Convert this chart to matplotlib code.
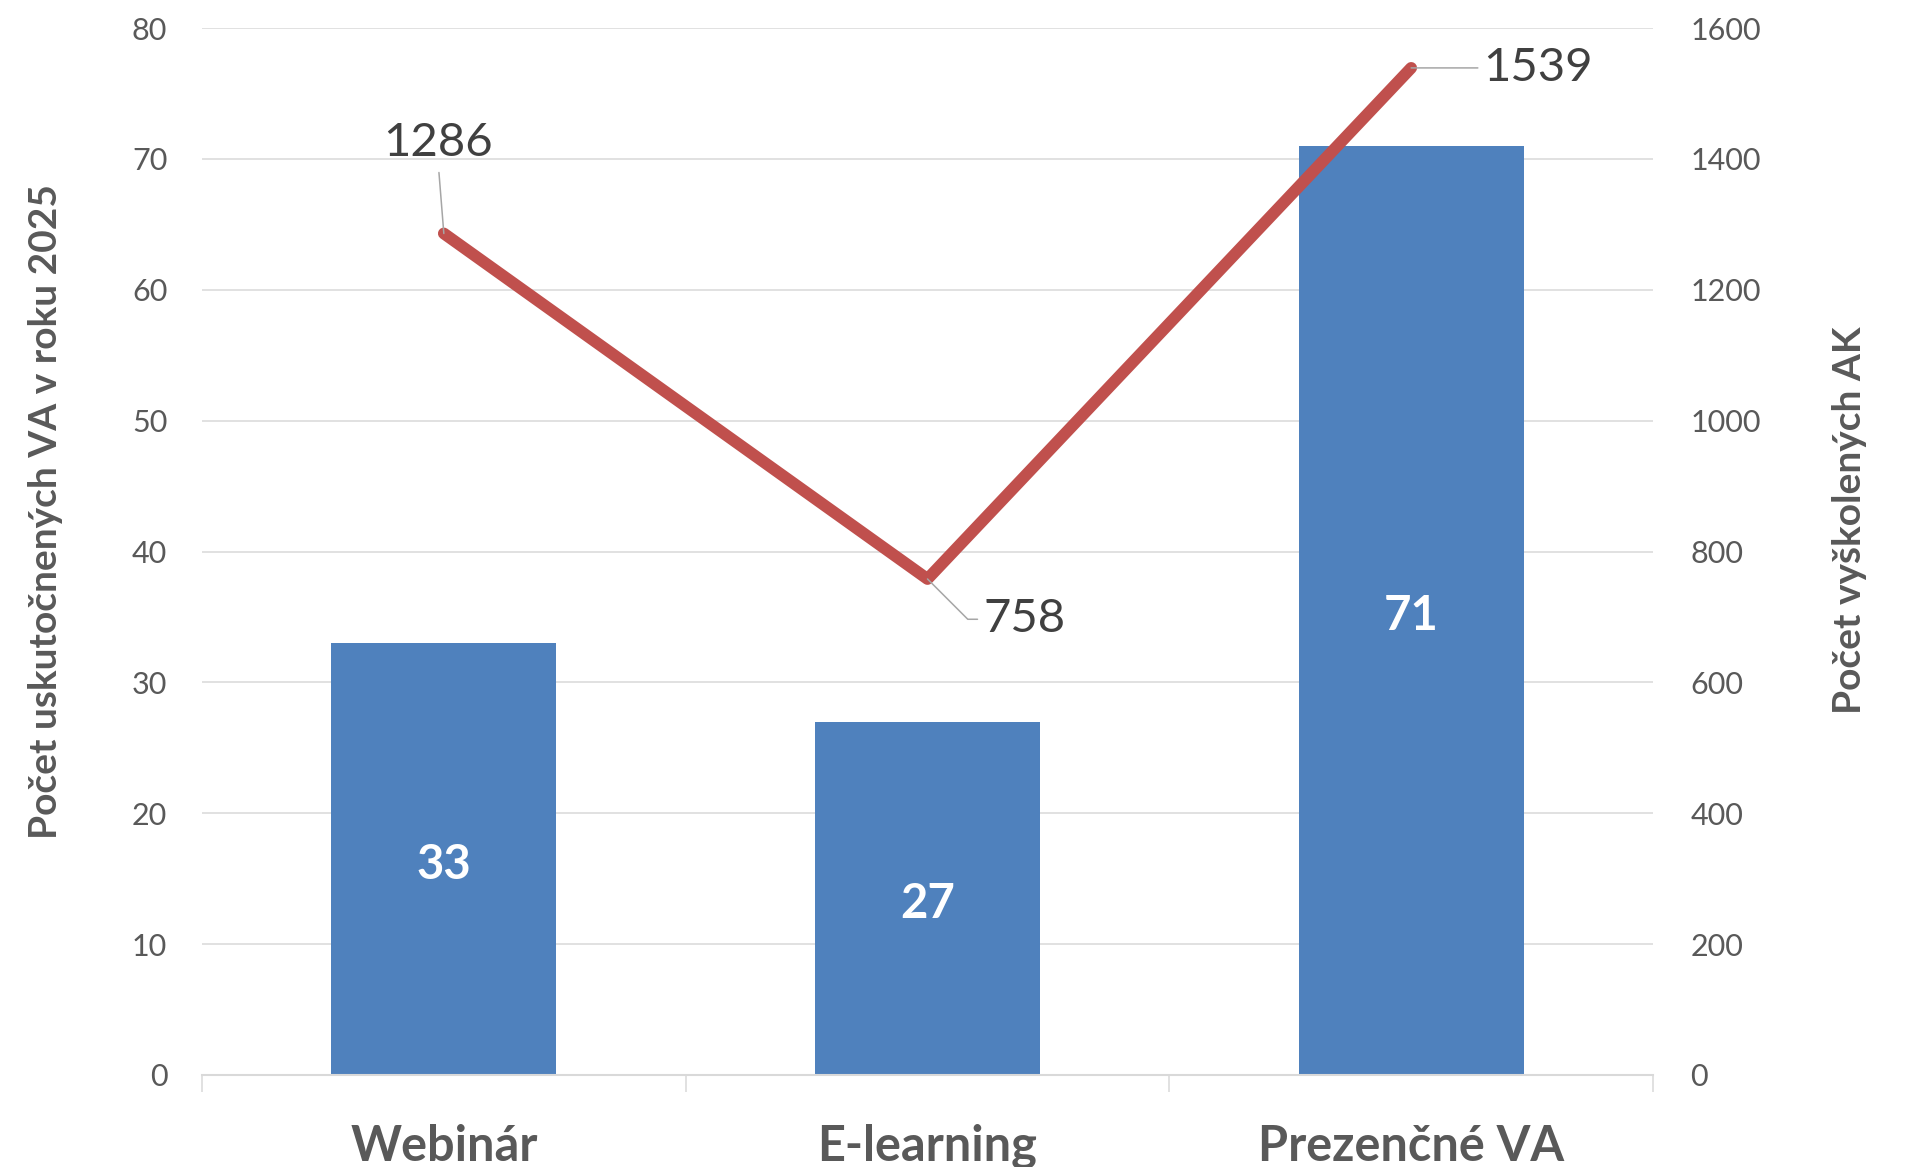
import matplotlib
matplotlib.use("Agg")
import matplotlib.pyplot as plt
import numpy as np

categories = ["Webinár", "E-learning", "Prezenčné VA"]
bar_values = [33, 27, 71]
line_values = [1286, 758, 1539]
left_ticks = [0, 10, 20, 30, 40, 50, 60, 70, 80]
right_ticks = [0, 200, 400, 600, 800, 1000, 1200, 1400, 1600]
left_title = "Počet uskutočnených VA v roku 2025"
right_title = "Počet vyškolených AK"

plt.rcParams['font.family'] = ['Lato', 'DejaVu Sans']

BAR_C = "#4F81BD"
LINE_C = "#C0504D"
GRID_C = "#D9D9D9"
TICK_C = "#595959"
LBL_C = "#404040"

fig = plt.figure(figsize=(19.06, 11.67), dpi=100)
ax = fig.add_axes([202/1906, 1-1075/1167, 1451/1906, 1047/1167])
x = np.arange(len(categories))

bars = ax.bar(x, bar_values, width=0.465, color=BAR_C, zorder=2)
blabels = ax.bar_label(bars, labels=[str(v) for v in bar_values], label_type='center',
                       color='white', fontsize=34, fontweight='bold')
for t in blabels:
    t.set_va('center')
    t.set_position((0, -4))

ax.set_xlim(-0.5, len(categories) - 0.5)
ax.set_ylim(0, 80)
ax.set_yticks(left_ticks)
ax.yaxis.grid(True, color=GRID_C, linewidth=1.1, zorder=0)
ax.set_axisbelow(True)
for s in ['left', 'right', 'top']:
    ax.spines[s].set_visible(False)
ax.spines['bottom'].set_color(GRID_C)
ax.spines['bottom'].set_linewidth(1.5)
ax.tick_params(axis='y', length=0, pad=25, labelsize=22, labelcolor=TICK_C)

ax.set_xticks(np.arange(len(categories) + 1) - 0.5)
ax.set_xticklabels([])
ax.set_xticks(x, minor=True)
ax.set_xticklabels(categories, minor=True)
ax.tick_params(axis='x', which='major', length=12, width=1.1, color=GRID_C)
ax.tick_params(axis='x', which='minor', length=0, pad=35, labelsize=35,
               labelcolor=TICK_C)
for t in ax.get_xticklabels(minor=True):
    t.set_fontweight('bold')

ax.text((46-202)/1451, (1075-512)/1047, left_title, transform=ax.transAxes,
        rotation=90, ha='center', va='center', fontsize=28, fontweight='bold',
        color=TICK_C)

ax2 = ax.twinx()
ax2.set_ylim(0, 1600)
ax2.set_yticks(right_ticks)
for s in ['left', 'right', 'top', 'bottom']:
    ax2.spines[s].set_visible(False)
ax2.tick_params(axis='y', length=0, pad=27, labelsize=22, labelcolor=TICK_C)
ax2.plot(x, line_values, color=LINE_C, linewidth=8.5, solid_capstyle='round',
         solid_joinstyle='round', zorder=3)
ax2.text((1850-202)/1451, (1075-520)/1047, right_title, transform=ax2.transAxes,
         rotation=90, ha='center', va='center', fontsize=28, fontweight='bold',
         color=TICK_C)

lead = dict(arrowstyle='-', color='#A6A6A6', lw=1.1, shrinkB=0)
ax2.annotate(str(line_values[0]), xy=(x[0], line_values[0]), xytext=(-4, 65),
             textcoords='offset points', ha='center', va='center', fontsize=34,
             color=LBL_C,
             arrowprops=dict(lead, relpos=(0.5, 0), shrinkA=4))
ax2.annotate(str(line_values[1]), xy=(x[1], line_values[1]), xytext=(40, -29),
             textcoords='offset points', ha='left', va='center', fontsize=34,
             color=LBL_C,
             arrowprops=dict(lead, relpos=(0, 0.5), shrinkA=2,
                             connectionstyle="angle,angleA=0,angleB=-45,rad=0"))
ax2.annotate(str(line_values[2]), xy=(x[2], line_values[2]), xytext=(52, 0),
             textcoords='offset points', ha='left', va='center', fontsize=34,
             color=LBL_C,
             arrowprops=dict(lead, relpos=(0, 0.5), shrinkA=2))

fig.savefig("out.png", dpi=100)
